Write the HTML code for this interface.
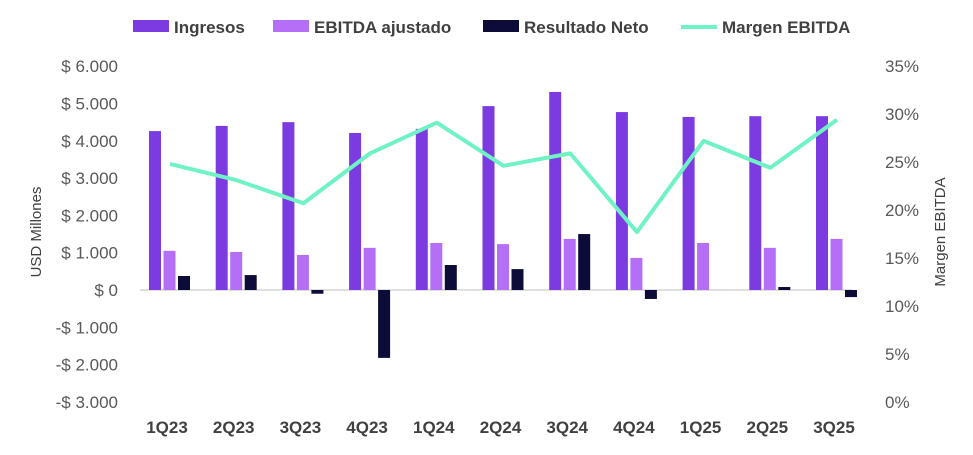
<!DOCTYPE html>
<html><head><meta charset="utf-8"><style>
body{margin:0;background:#fff;width:973px;height:450px;overflow:hidden}
svg text{font-family:"Liberation Sans",sans-serif}
</style></head><body>
<svg id="chart" width="973" height="450" xmlns="http://www.w3.org/2000/svg"></svg>
<script>
const categories=["1Q23","2Q23","3Q23","4Q23","1Q24","2Q24","3Q24","4Q24","1Q25","2Q25","3Q25"];
const ingresos=[4260,4400,4500,4210,4320,4930,5310,4770,4640,4660,4660];
const ebitda=[1050,1020,940,1130,1260,1230,1370,860,1260,1130,1370];
const neto=[375,400,-100,-1820,670,560,1500,-240,0,80,-190];
const margen=[24.8,23.1,20.7,25.9,29.1,24.6,25.9,17.7,27.2,24.4,29.4];
const leftTicks=[6000,5000,4000,3000,2000,1000,0,-1000,-2000,-3000];
const leftTickLabels=["$ 6.000","$ 5.000","$ 4.000","$ 3.000","$ 2.000","$ 1.000","$ 0","-$ 1.000","-$ 2.000","-$ 3.000"];
const rightTicks=[35,30,25,20,15,10,5,0];
const seriesNames=["Ingresos","EBITDA ajustado","Resultado Neto","Margen EBITDA"];
const colors=["#7c3be0","#b56ef6","#0d0b38","#6ff2c4"];
const NS="http://www.w3.org/2000/svg";
const svg=document.getElementById('chart');
function yL(v){return 290-v*0.0373;}
function yR(p){return 402-p*9.6;}
function xC(i){return 170+i*66.7;}
function mk(t,a){const e=document.createElementNS(NS,t);for(const k in a)e.setAttribute(k,a[k]);svg.appendChild(e);return e;}
// zero line
let z=mk('line',{x1:140,x2:852,y1:yL(0),y2:yL(0),stroke:'#bfbfbf','stroke-width':1});


leftTicks.forEach((v,i)=>{const t=mk('text',{x:118,y:yL(v)+6,'text-anchor':'end','font-size':17,fill:'#595959'});t.textContent=leftTickLabels[i];

});
rightTicks.forEach(v=>{const t=mk('text',{x:885,y:yR(v)+6,'font-size':17,fill:'#595959'});t.textContent=v+'%';

});
const series=[ingresos,ebitda,neto];
categories.forEach((c,i)=>{
 series.forEach((s,k)=>{
  const x=xC(i)-21+k*14.5, y0=yL(0), y1=yL(s[i]);
  const r=mk('rect',{x:x,y:Math.min(y0,y1),width:12,height:Math.abs(y1-y0),fill:colors[k]});
  
  
 });
 const t=mk('text',{x:xC(i)-3,y:433,'text-anchor':'middle','font-size':17,'font-weight':'bold',fill:'#404040'});t.textContent=c;
 
 
});
const pl=mk('polyline',{points:margen.map((p,i)=>xC(i)+','+yR(p)).join(' '),fill:'none',stroke:colors[3],'stroke-width':4,'stroke-linejoin':'round'});


let a=mk('text',{transform:'translate(41,232) rotate(-90)','text-anchor':'middle','font-size':15,fill:'#404040'});a.textContent='USD Millones';


a=mk('text',{transform:'translate(945,232) rotate(-90)','text-anchor':'middle','font-size':15,fill:'#404040'});a.textContent='Margen EBITDA';


const lx=[133,273,483,681];
seriesNames.forEach((n,k)=>{
 let m;
 if(k<3)m=mk('rect',{x:lx[k],y:20,width:36,height:12,fill:colors[k]});
 else m=mk('line',{x1:lx[k],x2:lx[k]+36,y1:27,y2:27,stroke:colors[k],'stroke-width':4});
 
 
 const t=mk('text',{x:lx[k]+41,y:33,'font-size':17,'font-weight':'bold',fill:'#404040'});t.textContent=n;
 
 
});
</script>
</body></html>
